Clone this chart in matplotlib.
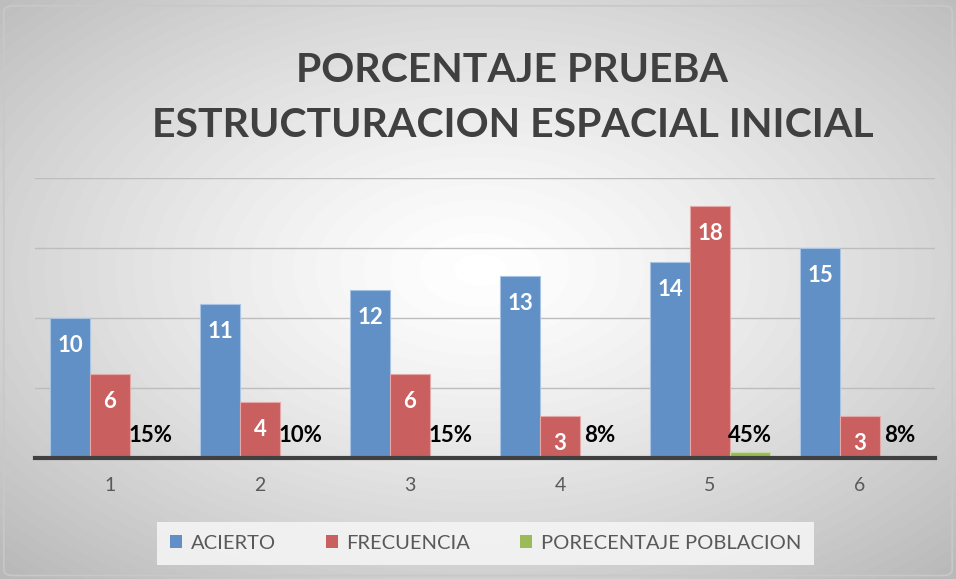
import numpy as np
import matplotlib.pyplot as plt
from matplotlib.patches import FancyBboxPatch, Patch

# Data
categorias = ["1", "2", "3", "4", "5", "6"]
acierto = [10, 11, 12, 13, 14, 15]
frecuencia = [6, 4, 6, 3, 18, 3]
porcentaje = [0.15, 0.10, 0.15, 0.08, 0.45, 0.08]
etiquetas_pct = ["15%", "10%", "15%", "8%", "45%", "8%"]

titulo = "PORCENTAJE PRUEBA\nESTRUCTURACION ESPACIAL INICIAL"
series = ["ACIERTO", "FRECUENCIA", "PORECENTAJE POBLACION"]

azul = "#6190C6"
rojo = "#C9605F"
verde = "#9BBB59"
gris_texto = "#595959"

plt.rcParams['font.family'] = ['Lato', 'DejaVu Sans']

fig = plt.figure(figsize=(9.56, 5.79), dpi=100)

# Fondo con degradado radial
bg = fig.add_axes([0, 0, 1, 1], zorder=-10)
yy, xx = np.mgrid[0:579, 0:956]
dx = (xx - 480) / 478.0
dy = (yy - 270) / 289.0
r = np.sqrt(dx**2 + dy**2) / np.sqrt(2)
v = 1 - 0.27 * np.clip(r, 0, 1) ** 1.3
bg.imshow(v, cmap="gray", vmin=0, vmax=1, aspect="auto", extent=[0, 1, 0, 1])
bg.set_xlim(0, 1)
bg.set_ylim(0, 1)
bg.axis("off")
bg.add_patch(FancyBboxPatch((0.004, 0.006), 0.992, 0.984,
                            boxstyle="round,pad=0,rounding_size=0.01",
                            fill=False, edgecolor="#c8c8c8", linewidth=1.2,
                            transform=bg.transAxes))

ax = fig.add_axes([35 / 956, 121 / 579, 900 / 956, 280 / 579])
ax.set_facecolor("none")

x = np.arange(len(categorias))
w = 0.267
b1 = ax.bar(x - w, acierto, w, color=azul, edgecolor="#a9c3e3", linewidth=0.8, zorder=3)
b2 = ax.bar(x, frecuencia, w, color=rojo, edgecolor="#e3a9a9", linewidth=0.8, zorder=3)
b3 = ax.bar(x + w, porcentaje, w, color=verde, edgecolor="#c7dba0", linewidth=0.8, zorder=3)

for bar, val in zip(b1, acierto):
    ax.annotate(str(val), (bar.get_x() + bar.get_width() / 2, bar.get_height()),
                xytext=(0, -20), textcoords="offset points", ha="center", va="center",
                color="white", fontsize=16, fontweight="bold", zorder=5)
for bar, val in zip(b2, frecuencia):
    ax.annotate(str(val), (bar.get_x() + bar.get_width() / 2, bar.get_height()),
                xytext=(0, -20), textcoords="offset points", ha="center", va="center",
                color="white", fontsize=16, fontweight="bold", zorder=5)
for bar, lab in zip(b3, etiquetas_pct):
    ax.annotate(lab, (bar.get_x() + bar.get_width() / 2, 0),
                xytext=(0, 16.5), textcoords="offset points", ha="center", va="center",
                color="black", fontsize=16, fontweight="bold", zorder=5)

ax.set_xlim(-0.5, len(categorias) - 0.5)
ax.set_ylim(0, 20)
ax.set_yticks([5, 10, 15, 20])
ax.yaxis.grid(True, color="#bdbdbd", linewidth=1)
ax.set_axisbelow(True)
ax.tick_params(axis="y", left=False, labelleft=False)
ax.set_xticks(x)
ax.set_xticklabels(categorias, color=gris_texto, fontsize=14)
ax.tick_params(axis="x", length=0, pad=14)
for s in ["top", "right", "left"]:
    ax.spines[s].set_visible(False)
ax.spines["bottom"].set_color("#404040")
ax.spines["bottom"].set_linewidth(3)
ax.spines["bottom"].set_zorder(6)

fig.text(0.536, 0.831, titulo, ha="center", va="center", fontsize=29.5,
         fontweight="bold", color="#404040", linespacing=1.6)

handles = [Patch(facecolor=c, edgecolor="none") for c in (azul, rojo, verde)]
leg = fig.legend(handles, series, loc="center", bbox_to_anchor=(0.508, 0.062),
                 ncol=3, frameon=True, fontsize=14.5, handlelength=0.6, handleheight=0.6,
                 handletextpad=0.4, columnspacing=2.5, borderpad=0.65)
leg.get_frame().set_facecolor("#f4f4f4")
leg.get_frame().set_edgecolor("none")
leg.get_frame().set_alpha(0.9)
leg.get_frame().set_boxstyle("square", pad=0)
for t in leg.get_texts():
    t.set_color(gris_texto)

fig.savefig("out.png", dpi=100)
